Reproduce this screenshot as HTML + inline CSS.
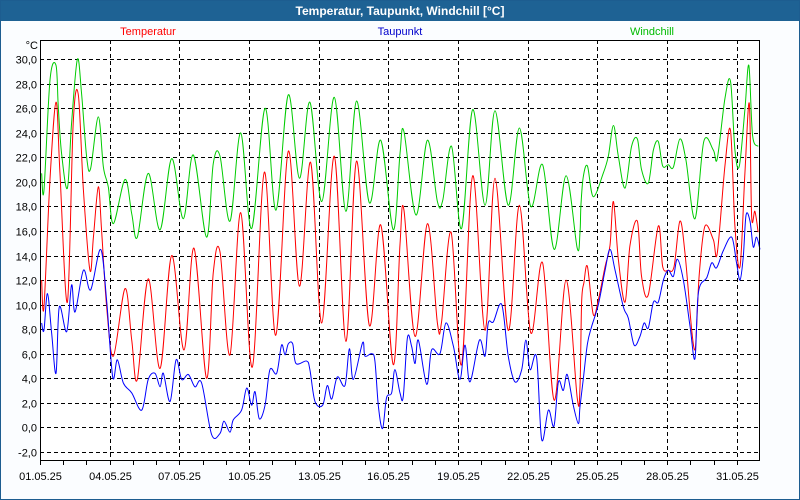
<!DOCTYPE html>
<html><head><meta charset="utf-8"><style>
body{margin:0;width:800px;height:500px;overflow:hidden;font-family:"Liberation Sans",sans-serif}
#win{position:absolute;left:0;top:0;width:798px;height:498px;border:1px solid #1d5d90;background:#fbfdff}
#title{position:absolute;left:0;top:0;width:798px;height:20px;background:#1e6294;color:#fff;font-weight:bold;font-size:12px;text-align:center;line-height:20px}
</style></head><body>
<div id="win">
<div id="title">Temperatur, Taupunkt, Windchill [°C]</div>
</div>
<svg id="chart" width="800" height="500" style="position:absolute;left:0;top:0"></svg>
<script>
const yTicks=[-2,0,2,4,6,8,10,12,14,16,18,20,22,24,26,28,30];
const xTickDays=[0,3,6,9,12,15,18,21,24,27,30];
const xTickLabels=["01.05.25","04.05.25","07.05.25","10.05.25","13.05.25","16.05.25","19.05.25","22.05.25","25.05.25","28.05.25","31.05.25"];
const seriesNames=["Temperatur","Taupunkt","Windchill"];
const tempT=[0.07,0.17,0.43,0.69,0.86,1.18,1.43,1.65,1.87,2.15,2.3,2.51,2.65,2.87,3.16,3.66,3.95,4.19,4.66,5.17,5.67,6.2,6.63,7.17,7.46,7.75,8.18,8.64,9.14,9.66,10.15,10.69,11.17,11.65,12.13,12.67,13.17,13.63,14.18,14.67,15.21,15.5,15.67,16.15,16.68,17.11,17.29,17.7,18.15,18.63,19.16,19.59,20.16,20.64,21.13,21.64,22.14,22.65,23.13,23.25,23.32,23.42,23.57,23.82,24.04,24.33,24.54,24.69,24.9,25.19,25.4,25.72,25.9,26.19,26.62,26.81,27.05,27.3,27.55,27.77,28.06,28.2,28.27,28.39,28.63,28.99,29.16,29.49,29.73,29.92,30.14,30.35,30.54,30.64,30.78,30.92];
const tempV=[12,9.8,20.2,26.5,20.7,10.2,24.8,27.1,19.3,12.8,15.5,19.6,16.1,9.8,5.8,11.3,7.1,3.9,12.1,4.8,14,6.3,14.6,4,12.6,14.3,5.9,17.5,4.9,20.8,7.5,22.5,11.5,21.6,8.5,22.1,7,21.7,8.3,16.5,5.1,14.9,17.7,7.4,16.6,8.5,8.6,15.9,5.1,20.5,7.9,20.3,7.9,18.1,7.7,13.4,2.2,12,2.4,3.3,10.2,11.8,13.1,9.2,10.4,13.1,14.8,18.4,13.7,10.2,14.8,16.8,12.3,10.8,16.4,13.1,12.8,13.1,16.8,14.2,7.9,6.3,8.2,12.6,16.4,15.3,14.2,21.3,24.2,16.4,13.1,20.7,26.4,17.2,17.6,15.9];
const dewT=[0.07,0.17,0.32,0.5,0.69,0.83,1.15,1.36,1.51,1.87,2.18,2.61,2.87,3.13,3.33,3.59,3.95,4.38,4.66,4.95,5.17,5.31,5.6,5.86,6.1,6.39,6.67,6.96,7.39,7.75,7.92,8.18,8.32,8.68,8.9,9.11,9.26,9.44,9.69,9.9,10.19,10.4,10.55,10.69,10.88,11.02,11.48,11.62,11.84,12.17,12.37,12.56,12.8,13.13,13.32,13.49,13.89,13.99,14.28,14.42,14.57,14.75,14.92,15.14,15.28,15.5,15.64,15.82,16.0,16.15,16.29,16.65,16.86,17.22,17.48,17.8,18.08,18.3,18.51,18.92,19.16,19.3,19.52,19.88,20.16,20.45,20.74,20.92,21.1,21.38,21.6,21.89,22.13,22.32,22.53,22.7,22.96,23.18,23.25,23.39,23.57,23.75,24.04,24.33,24.54,24.76,25.12,25.33,25.58,25.83,26.01,26.19,26.41,26.62,26.84,27.05,27.27,27.44,27.7,27.99,28.2,28.35,28.71,28.92,29.13,29.42,29.78,29.99,30.14,30.28,30.4,30.57,30.71,30.85,31];
const dewV=[8.5,7.9,10.9,7.7,4.4,9.8,7.8,11.6,9.4,12.8,11.2,14.5,10.3,4.1,5.5,3.6,2.8,1.4,3.9,4.4,3.3,4.4,2.1,5.5,3.9,4.3,3.3,3.6,-0.6,-0.5,0.5,-0.4,0.6,1.4,3.2,1.8,2.9,0.7,1.8,4.7,4.4,6.7,5.9,6.8,6.8,5.2,5.4,4.7,2.1,1.8,3.4,2.3,4.1,3.4,6.4,3.9,6.9,5.8,6,5.4,1.7,-0.1,2.4,2.8,4.7,2.8,2.5,7.3,6.6,5.2,7.1,3.5,6.3,6,8.5,6.6,3.9,6.7,3.7,7.1,5.8,8.5,8.6,10,5.8,3.7,4.7,7.1,4.7,5.7,-1,1.4,0.1,3.7,3,4.3,1.8,0.3,1.7,3.9,6.8,8.2,10,12.8,14.5,12.8,9.8,8.9,6.7,7.4,8.5,8.1,10.2,10.2,12,12.8,12.3,13.7,12,8.2,5.6,11,12.2,13.4,13,14.4,15.5,13.4,12,13.9,17.3,16.8,14.7,15.5,14.5];
const windT=[0.07,0.17,0.43,0.69,0.79,0.93,1.18,1.36,1.61,1.79,2.01,2.18,2.51,2.73,2.94,3.16,3.66,3.95,4.19,4.66,5.17,5.67,6.17,6.6,7.17,7.46,7.75,8.18,8.64,9.11,9.69,10.16,10.69,11.17,11.62,12.13,12.67,13.17,13.63,14.18,14.67,15.21,15.5,15.67,16.19,16.68,17.11,17.34,17.72,18.15,18.63,19.16,19.59,20.16,20.64,21.13,21.64,22.14,22.65,23.13,23.25,23.29,23.39,23.57,23.82,24.25,24.47,24.69,24.9,25.19,25.47,25.72,25.9,26.19,26.41,26.62,26.81,27.05,27.27,27.55,27.81,28.2,28.58,28.99,29.16,29.49,29.73,29.92,30.11,30.35,30.52,30.68,30.92];
const windV=[20.7,19.3,28.3,29.5,26,22.3,19.5,24.8,30,27.2,22,21.1,25.3,21.2,19.6,16.6,20.2,17.4,15.5,20.7,16.1,21.9,17,22.2,15.5,21.5,22.1,16.8,24,16.2,26,17.7,27.1,20.3,26.5,18.4,26.9,17.6,26.6,18.3,23.4,16.1,22.3,24.1,17.3,23.4,18.4,18.5,22.9,16.2,25.9,18.1,25.8,18.1,24.4,18,21.4,14.5,20.5,14.6,15.9,18.1,20.4,21.3,18.8,20.7,22.1,24.6,22.1,19.5,22.9,23.5,21,19.9,22.6,23.3,21.3,21.4,21.2,23.5,21.8,17,23.3,22.6,21.9,26.8,28.2,22.6,21.3,25.9,29.5,23.8,22.9];

const svg=document.getElementById('chart');
const NS='http://www.w3.org/2000/svg';
const L=40,R=760,T=40,B=461,D0=0,D1=31,V0=-2.75,V1=31.57;
function xs(d){return L+(d-D0)/(D1-D0)*(R-L);}
function ys(v){return B-(v-V0)/(V1-V0)*(B-T);}
function mk(tag,attrs,name){const e=document.createElementNS(NS,tag);for(const k in attrs)e.setAttribute(k,attrs[k]);


svg.appendChild(e);return e;}
function txt(x,y,s,anchor,fill,name){const t=mk('text',{x:x,y:y,'text-anchor':anchor,fill:fill,'font-size':'11','font-family':'Liberation Sans, sans-serif'},name);t.textContent=s;return t;}
mk('rect',{x:L,y:T,width:R-L,height:B-T,fill:'#fff'},'plot-area');
yTicks.forEach(v=>{const y=Math.round(ys(v))+0.5;
mk('line',{x1:L,x2:R,y1:y,y2:y,stroke:'#000','stroke-dasharray':'4,3'},'y-gridline');
txt(37,y+4,v.toFixed(1).replace('.',','),'end','#000','y-tick-label');});
for(let d=1;d<31;d++){const x=Math.round(xs(d))+0.5;
mk('line',{x1:x,x2:x,y1:B,y2:B+4,stroke:'#000'},'x-minor-tick');}
xTickDays.forEach((d,i)=>{const x=Math.round(xs(d))+0.5;
if(d>0)mk('line',{x1:x,x2:x,y1:T,y2:B,stroke:'#000','stroke-dasharray':'4,3'},'x-gridline');
mk('line',{x1:x,x2:x,y1:B,y2:B+4,stroke:'#000'},'x-tick');
txt(x,480,xTickLabels[i],'middle','#000','x-tick-label');});
function path(ts,vs){const p=ts.map((t,i)=>[xs(t),ys(vs[i])]);let s='M'+p[0][0]+','+p[0][1];
for(let i=0;i<p.length-1;i++){const p0=p[Math.max(0,i-1)],p1=p[i],p2=p[i+1],p3=p[Math.min(p.length-1,i+2)];
const c1=[p1[0]+(p2[0]-p0[0])/6,p1[1]+(p2[1]-p0[1])/6],c2=[p2[0]-(p3[0]-p1[0])/6,p2[1]-(p3[1]-p1[1])/6];
s+=' C'+c1[0]+','+c1[1]+' '+c2[0]+','+c2[1]+' '+p2[0]+','+p2[1];}return s;}
mk('path',{d:path(windT,windV),fill:'none',stroke:'#00cc00','stroke-width':1},'windchill-line');
mk('path',{d:path(tempT,tempV),fill:'none',stroke:'#ff0000','stroke-width':1},'temperatur-line');
mk('path',{d:path(dewT,dewV),fill:'none',stroke:'#0000ff','stroke-width':1},'taupunkt-line');
mk('rect',{x:L+0.5,y:T+0.5,width:R-L-1,height:B-T-1,fill:'none',stroke:'#000'},'plot-frame');
txt(38,49,'°C','end','#000','y-axis-unit');
txt(148,35,seriesNames[0],'middle','#ff0000','legend-temperatur');
txt(400,35,seriesNames[1],'middle','#0000cc','legend-taupunkt');
txt(652,35,seriesNames[2],'middle','#00bb00','legend-windchill');
</script>
</body></html>
